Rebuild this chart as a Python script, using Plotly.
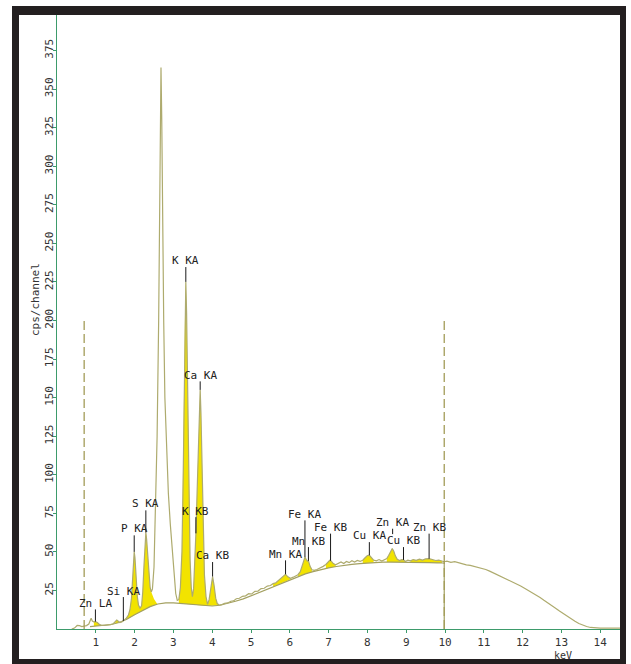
import numpy as np
import plotly.graph_objects as go

# ---- measured spectrum (keV, counts per second per channel) ----
energy_keV = [
    0.38, 0.45, 0.52, 0.58, 0.64, 0.70, 0.76, 0.82, 0.86, 0.88, 0.91, 0.95, 0.99, 1.04, 1.09,
    1.15, 1.22, 1.30, 1.38, 1.45, 1.50, 1.54, 1.58, 1.62, 1.67, 1.72, 1.78, 1.84, 1.88, 1.92,
    1.95, 1.97, 1.99, 2.01, 2.04, 2.07, 2.10, 2.14, 2.18, 2.21, 2.24, 2.27, 2.29, 2.31, 2.34,
    2.37, 2.40, 2.43, 2.46, 2.50, 2.54, 2.58, 2.62, 2.65, 2.68, 2.70, 2.72, 2.75, 2.78, 2.82,
    2.87, 2.92, 2.97, 3.02, 3.06, 3.10, 3.14, 3.18, 3.22, 3.25, 3.28, 3.30, 3.32, 3.34, 3.37,
    3.40, 3.43, 3.46, 3.49, 3.52, 3.55, 3.58, 3.61, 3.64, 3.67, 3.69, 3.71, 3.74, 3.77, 3.80,
    3.84, 3.88, 3.92, 3.96, 4.01, 4.05, 4.09, 4.13, 4.18, 4.25, 4.32, 4.40, 4.48, 4.55, 4.62,
    4.70, 4.78, 4.86, 4.94, 5.02, 5.10, 5.18, 5.26, 5.34, 5.42, 5.50, 5.57, 5.64, 5.72, 5.80,
    5.89, 5.95, 6.02, 6.09, 6.15, 6.21, 6.27, 6.32, 6.36, 6.39, 6.42, 6.45, 6.48, 6.52, 6.57,
    6.63, 6.70, 6.78, 6.86, 6.93, 6.98, 7.03, 7.07, 7.12, 7.18, 7.25, 7.32, 7.39, 7.46, 7.53,
    7.60, 7.67, 7.74, 7.81, 7.88, 7.94, 8.00, 8.05, 8.10, 8.16, 8.23, 8.30, 8.37, 8.44, 8.50,
    8.55, 8.60, 8.64, 8.68, 8.72, 8.77, 8.83, 8.88, 8.93, 8.98, 9.04, 9.11, 9.18, 9.26, 9.34,
    9.42, 9.50, 9.59, 9.68, 9.76, 9.84, 9.92, 9.98, 10.05, 10.15, 10.25, 10.35, 10.45, 10.55, 10.65,
    10.75, 10.85, 10.95, 11.05, 11.15, 11.25, 11.35, 11.45, 11.55, 11.65, 11.75, 11.85, 11.95, 12.05, 12.15,
    12.25, 12.35, 12.45, 12.55, 12.65, 12.75, 12.85, 12.95, 13.05, 13.15, 13.25, 13.35, 13.45, 13.55, 13.65,
    13.75, 13.85, 14.00, 14.51,
]
counts_cps = [
    0.0, 0.6, 2.3, 2.2, 1.6, 1.8, 2.2, 3.2, 6.0, 7.0, 5.2, 4.6, 4.8, 4.2, 3.0,
    2.4, 2.3, 2.5, 2.8, 3.4, 4.8, 5.8, 5.0, 4.2, 4.6, 5.4, 6.8, 9.0, 12.5, 20.0,
    32.0, 43.0, 50.0, 46.0, 32.0, 21.0, 15.5, 13.5, 15.0, 24.0, 40.0, 56.0, 62.5, 58.0, 45.0,
    34.0, 27.0, 24.0, 26.0, 40.0, 75.0, 125.0, 200.0, 290.0, 364.0, 330.0, 270.0, 200.0, 150.0, 115.0,
    88.0, 68.0, 50.0, 34.0, 23.0, 18.5, 19.0, 27.0, 50.0, 95.0, 165.0, 205.0, 225.0, 205.0, 140.0,
    80.0, 45.0, 27.0, 21.0, 26.0, 40.0, 62.0, 88.0, 120.0, 148.0, 155.0, 140.0, 100.0, 60.0, 35.0,
    21.0, 16.0, 19.0, 27.0, 34.0, 28.0, 20.0, 16.5, 15.5, 15.8, 16.6, 16.9, 18.0, 18.2, 19.6,
    19.9, 21.2, 21.5, 22.9, 22.7, 24.4, 24.6, 26.2, 26.4, 27.8, 28.2, 29.4, 30.0, 31.6, 33.2,
    35.5, 33.8, 32.9, 33.6, 34.2, 35.2, 37.2, 41.0, 44.5, 46.6, 45.2, 44.0, 44.2, 40.8, 38.4,
    38.0, 38.6, 39.5, 40.6, 41.8, 43.4, 44.5, 44.0, 42.4, 41.6, 42.6, 43.4, 42.4, 43.8, 43.0,
    44.2, 43.4, 44.4, 43.8, 44.6, 46.2, 47.6, 47.8, 46.4, 44.6, 44.2, 45.0, 44.0, 44.9, 45.6,
    47.8, 50.6, 52.2, 50.4, 47.4, 45.2, 44.4, 44.9, 44.8, 43.8, 44.6, 44.2, 45.0, 44.5, 45.3,
    44.7, 45.4, 45.6, 44.7, 44.4, 44.6, 44.0, 43.6, 44.0, 43.2, 43.6, 42.8, 42.5, 41.6, 41.2,
    40.5, 40.2, 39.2, 38.6, 37.5, 36.3, 35.4, 34.0, 33.0, 31.6, 30.4, 29.2, 27.9, 26.4, 25.0,
    23.4, 21.8, 20.4, 18.6, 17.0, 15.3, 13.5, 11.6, 9.9, 8.1, 6.6, 5.0, 3.6, 2.4, 1.6,
    1.0, 0.8, 0.6, 0.6,
]

# ---- fitted continuum under the lines ----
bkg_keV = [0.85, 1.0, 1.2, 1.4, 1.6, 1.8, 2.0, 2.2, 2.4, 2.6, 2.8, 3.0, 3.2, 3.4, 3.6, 3.8, 3.9,
           4.0, 4.2, 4.4, 4.6, 4.8, 5.0, 5.2, 5.4, 5.6, 5.8, 6.0, 6.2, 6.4, 6.6, 6.8, 7.0, 7.2,
           7.4, 7.6, 7.8, 8.0, 8.2, 8.4, 8.6, 8.8, 9.0, 9.2, 9.4, 9.6, 9.8, 9.98]
bkg_cps = [1.6, 1.9, 2.2, 2.9, 4.2, 6.3, 9.3, 12.0, 14.5, 16.2, 16.9, 16.9, 16.5, 16.0, 15.4, 15.0, 14.8,
           14.9, 15.4, 16.5, 18.0, 19.5, 21.5, 23.5, 25.5, 27.8, 30.0, 32.0, 34.0, 35.7, 37.2, 38.5, 39.6, 40.5,
           41.3, 41.9, 42.4, 42.8, 43.1, 43.3, 43.4, 43.4, 43.4, 43.3, 43.2, 43.0, 42.9, 42.8]

# S KA tail hidden beneath the unlabelled 2.7 keV line
s_tail_keV = [2.43, 2.50, 2.58]
s_tail_cps = [24.0, 19.5, 16.4]

# energy windows of the identified lines (filled)
fill_windows = [(0.92, 1.10), (1.46, 1.63), (1.78, 2.43), (3.12, 4.18), (5.55, 6.05),
                (6.18, 6.62), (6.90, 7.22), (7.88, 8.20), (8.48, 8.98), (9.08, 9.96)]

# line identifications
line_names = ["Zn LA", "Si KA", "P KA", "S KA", "K KA", "Ca KA", "K KB", "Ca KB",
              "Mn KA", "Fe KA", "Mn KB", "Fe KB", "Cu KA", "Zn KA", "Cu KB", "Zn KB"]
line_keV = [0.99, 1.71, 1.99, 2.29, 3.32, 3.69, 3.58, 4.01,
            5.89, 6.39, 6.48, 7.05, 8.05, 8.65, 8.93, 9.59]

# region-of-interest markers
roi_keV = [0.70, 9.98]
roi_top = 200

x_ticks = list(range(1, 15))
y_ticks = list(range(25, 376, 25))

# ---- label placement (cps): leader top, text centre, leader bottom override ----
leader_top = [12.7, 20.7, 60.7, 76.9, 234.6, 160.5, 72.5, 43.4,
              44.5, 70.4, 53.1, 61.8, 56.3, 65.0, 53.1, 61.8]
text_y = [16.6, 24.4, 65.2, 81.4, 238.9, 164.4, 76.2, 47.7,
          48.4, 74.3, 56.8, 65.9, 60.7, 69.1, 57.4, 65.9]
leader_stop = [None] * 13 + [61.5, None, None]

# ---- geometry ----
W, H = 631, 664
L, R, T, B = 57, 11, 15, 35
PW, PH = W - L - R, H - T - B
X_MAX = 14.51
Y_MAX = PH / 1.5428

AXIS_GREEN = "#3d9b6b"
RAW_COLOR = "#aeab6e"
BKG_COLOR = "#a3a060"
FILL_YELLOW = "#f2e300"
MONO = "DejaVu Sans Mono"


def px_x(px):
    return (px - L) / PW


def px_y(py):
    return (H - B - py) / PH


e = np.array(energy_keV)
c = np.array(counts_cps)

fig = go.Figure()

# yellow line areas between spectrum and continuum
for lo, hi in fill_windows:
    m = (e >= lo - 1e-9) & (e <= hi + 1e-9)
    xs = list(e[m])
    ys = list(c[m])
    if lo < 2.3 < hi:
        xs += s_tail_keV[1:]
        ys += s_tail_cps[1:]
    base = np.interp(xs, bkg_keV, bkg_cps)
    fig.add_trace(go.Scatter(
        x=xs + xs[::-1], y=ys + list(base[::-1]),
        fill="toself", fillcolor=FILL_YELLOW, mode="lines",
        line=dict(width=0), hoverinfo="skip", showlegend=False))

# continuum, ending with the drop at the fit limit
fig.add_trace(go.Scatter(
    x=bkg_keV + [bkg_keV[-1]], y=bkg_cps + [0],
    mode="lines", line=dict(color=BKG_COLOR, width=1.2),
    hoverinfo="skip", showlegend=False))

# measured spectrum
fig.add_trace(go.Scatter(
    x=energy_keV, y=counts_cps, mode="lines",
    line=dict(color=RAW_COLOR, width=1.2), showlegend=False))

# ROI markers
for xv in roi_keV:
    fig.add_shape(type="line", x0=xv, x1=xv, y0=0, y1=roi_top, xref="x", yref="y",
                  line=dict(color="#a39c58", width=1.3, dash="9px,4px"))

# line labels and leaders
for name, kv, top, ty, stop in zip(line_names, line_keV, leader_top, text_y, leader_stop):
    bottom = stop if stop is not None else float(np.interp(kv, e, c))
    fig.add_shape(type="line", x0=kv, x1=kv, y0=bottom, y1=top, xref="x", yref="y",
                  line=dict(color="#1a1a1a", width=1))
    fig.add_annotation(x=kv, y=ty, xref="x", yref="y", text=name, showarrow=False,
                       font=dict(family=MONO, size=11, color="#222222"),
                       xanchor="center", yanchor="middle")

# axis captions
fig.add_annotation(x=px_x(562.5), y=px_y(655), xref="paper", yref="paper", text="keV",
                   showarrow=False, font=dict(family=MONO, size=10, color="#333333"),
                   xanchor="center", yanchor="middle")
fig.add_annotation(x=px_x(35), y=px_y(300), xref="paper", yref="paper", text="cps/channel",
                   textangle=-90, showarrow=False,
                   font=dict(family=MONO, size=11, color="#333333"),
                   xanchor="center", yanchor="middle")

# heavy black frame around the chart
frame = [(12, 6, 626, 15), (12, 6, 19, 664), (620, 6, 626, 664), (12, 659, 626, 664)]
for x0, y0, x1, y1 in frame:
    fig.add_shape(type="rect", xref="paper", yref="paper",
                  x0=px_x(x0), x1=px_x(x1), y0=px_y(y1), y1=px_y(y0),
                  fillcolor="#231f20", line=dict(width=0), layer="above")

fig.update_layout(
    width=W, height=H,
    margin=dict(l=L, r=R, t=T, b=B),
    paper_bgcolor="white", plot_bgcolor="white",
    showlegend=False,
    xaxis=dict(range=[0, X_MAX], showgrid=False, zeroline=False,
               showline=True, linecolor=AXIS_GREEN, linewidth=1,
               ticks="outside", ticklen=3, tickcolor=AXIS_GREEN, tickwidth=1,
               tickvals=x_ticks, ticktext=[str(v) for v in x_ticks],
               tickfont=dict(family=MONO, size=11, color="#333333")),
    yaxis=dict(range=[0, Y_MAX], showgrid=False, zeroline=False,
               showline=True, linecolor=AXIS_GREEN, linewidth=1,
               ticks="outside", ticklen=3, tickcolor=AXIS_GREEN, tickwidth=1,
               tickvals=y_ticks, ticktext=[str(v) for v in y_ticks], tickangle=-90,
               ticklabelstandoff=-4,
               tickfont=dict(family=MONO, size=11, color="#333333")),
)

fig.write_html("out.html")
